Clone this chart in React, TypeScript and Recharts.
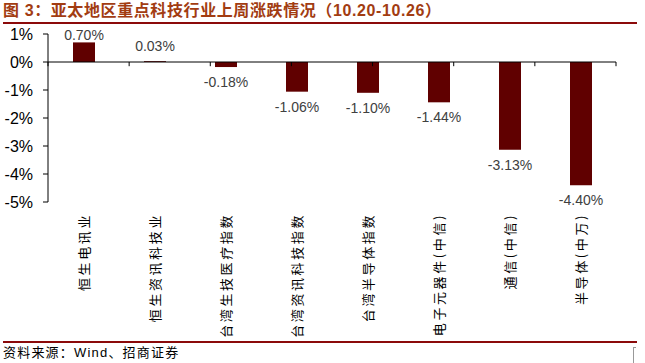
import { BarChart, Bar, XAxis, YAxis, ReferenceLine, LabelList } from "recharts";

const categories = [
  "恒生电讯业",
  "恒生资讯科技业",
  "台湾生技医疗指数",
  "台湾资讯科技指数",
  "台湾半导体指数",
  "电子元器件(中信)",
  "通信(中信)",
  "半导体(中万)",
];
const changes = [0.7, 0.03, -0.18, -1.06, -1.1, -1.44, -3.13, -4.4];
const yTicks = [-5, -4, -3, -2, -1, 0, 1];
const edges = [0, 1, 2, 3, 4, 5, 6, 7, 8];

const data = categories.map((name, i) => ({ name, value: changes[i] }));

const W = 645;
const H = 363;
const PLOT_TOP = 34;
const CJK = "'Noto Sans CJK SC', 'Noto Sans', sans-serif";
const LATIN = "Arial, 'Liberation Sans', sans-serif";

const CatTick = (props: any) => {
  const { x, y, payload } = props;
  return (
    <text
      transform={`translate(${x},${y + 3}) rotate(-90)`}
      textAnchor="end"
      dominantBaseline="central"
      fontSize={13}
      letterSpacing={2.6}
      fontFamily={CJK}
      fill="#000"
    >
      {payload.value}
    </text>
  );
};

const BarLabel = (props: any) => {
  const { x, y, width, height, value } = props;
  const top = Math.min(y, y + height);
  const bottom = Math.max(y, y + height);
  const ly = value >= 0 ? Math.max(top - 15, PLOT_TOP + 1) : bottom + 15;
  return (
    <text
      x={x + width / 2}
      y={ly}
      textAnchor="middle"
      dominantBaseline="central"
      fontSize={14}
      fontFamily={LATIN}
      fill="#404040"
    >
      {value.toFixed(2)}%
    </text>
  );
};

export default function App() {
  return (
    <div style={{ position: "relative", width: W, height: H, background: "#fff", overflow: "hidden" }}>
      <style>{"body{margin:0}"}</style>
      <div
        style={{
          position: "absolute",
          left: 3,
          top: 1,
          fontSize: 16,
          fontWeight: "bold",
          letterSpacing: 0.6,
          color: "#a23c12",
          fontFamily: `Arial, 'Liberation Sans', ${CJK}`,
          whiteSpace: "nowrap",
          lineHeight: "20px",
        }}
      >
        图 3：亚太地区重点科技行业上周涨跌情况（10.20-10.26）
      </div>
      <div style={{ position: "absolute", left: 3, top: 22, width: 634, height: 1.5, background: "#8b0a0a" }} />

      <div style={{ position: "absolute", left: 0, top: 0 }}>
        <BarChart width={W} height={H} data={data} margin={{ top: PLOT_TOP, right: 29, left: 0, bottom: 21 }}>
          <XAxis
            dataKey="name"
            interval={0}
            axisLine={false}
            tickLine={false}
            height={140}
            tick={<CatTick />}
          />
          <XAxis xAxisId="edge" type="number" domain={[0, 8]} hide />
          <YAxis
            domain={[-5, 1]}
            ticks={yTicks}
            tickFormatter={(v) => `${v}%`}
            width={48}
            tickSize={5}
            tickMargin={10}
            axisLine={{ stroke: "#000" }}
            tickLine={{ stroke: "#000" }}
            tick={{ fill: "#000", fontSize: 16, fontFamily: LATIN }}
          />
          <Bar dataKey="value" fill="#600000" barSize={22} isAnimationActive={false}>
            <LabelList dataKey="value" content={<BarLabel />} />
          </Bar>
          <ReferenceLine y={0} stroke="#000" strokeWidth={1} />
          {edges.map((e) => (
            <ReferenceLine
              key={e}
              xAxisId="edge"
              segment={[
                { x: e, y: 0 },
                { x: e, y: -0.15 },
              ]}
              stroke="#000"
              strokeWidth={1}
            />
          ))}
        </BarChart>
      </div>

      <div style={{ position: "absolute", left: 3, top: 341, width: 634, height: 1.5, background: "#8b0a0a" }} />
      <div
        style={{
          position: "absolute",
          left: 3,
          top: 344,
          fontSize: 13,
          letterSpacing: 1.2,
          color: "#000",
          fontFamily: `Arial, 'Liberation Sans', ${CJK}`,
          whiteSpace: "nowrap",
          lineHeight: "17px",
        }}
      >
        资料来源：Wind、招商证券
      </div>
      <div
        style={{
          position: "absolute",
          left: 633,
          top: 347,
          width: 2,
          height: 16,
          borderLeft: "1px solid #999",
          borderTop: "1px solid #999",
        }}
      />
    </div>
  );
}
